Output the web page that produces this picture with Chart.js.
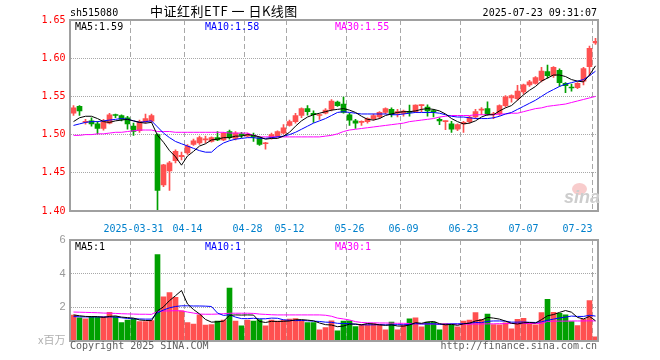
<!DOCTYPE html>
<html lang="zh-CN"><head><meta charset="utf-8"><title>中证红利ETF 日K线图</title>
<script src="https://cdn.jsdelivr.net/npm/chart.js@4.4.1/dist/chart.umd.min.js"></script>
<style>
html,body{margin:0;padding:0;background:#fff;}
#box{position:relative;width:660px;height:360px;overflow:hidden;background:#fff;}
#box canvas{position:absolute;left:0;}
.lbl{position:absolute;white-space:pre;font-family:"DejaVu Sans Mono",monospace;font-size:10px;line-height:12px;}
</style></head><body>
<div id="box">
<canvas id="priceCanvas" width="660" height="232" style="top:0"></canvas>
<canvas id="volumeCanvas" width="660" height="135" style="top:225px"></canvas>
<div class="lbl" style="left:70px;top:7px;color:#000">sh515080</div>
<div class="lbl" style="left:150px;top:4px;font-family:'Noto Sans CJK SC',sans-serif;font-size:13px;line-height:14px;letter-spacing:0.5px;color:#000">中证红利ETF 一 日K线图</div>
<div class="lbl" style="right:63px;top:7px;color:#000;text-align:right">2025-07-23 09:31:07</div>
<div class="lbl" style="left:75px;top:21px;color:#000">MA5:1.59</div>
<div class="lbl" style="left:205px;top:21px;color:#0000ff">MA10:1.58</div>
<div class="lbl" style="left:335px;top:21px;color:#ff00ff">MA30:1.55</div>
<div class="lbl" style="left:75px;top:241px;color:#000">MA5:1</div>
<div class="lbl" style="left:205px;top:241px;color:#0000ff">MA10:1</div>
<div class="lbl" style="left:335px;top:241px;color:#ff00ff">MA30:1</div>
<div style="position:absolute;left:572px;top:183px;width:15px;height:12px;border-radius:50%;background:#f8cccc"></div>
<div class="lbl" style="left:564px;top:188px;font-family:'Liberation Sans',sans-serif;font-style:italic;font-weight:bold;font-size:18px;line-height:19px;color:#cdcdcd">sina</div>
<div class="lbl" style="left:38px;top:333px;font-family:'Noto Sans CJK SC',sans-serif;font-size:11px;line-height:12px;color:#b0b0b0">x百万</div>
<div class="lbl" style="left:70px;top:340px;color:#606060">Copyright 2025 SINA.COM</div>
<div class="lbl" style="right:63px;top:340px;color:#606060;text-align:right">http://finance.sina.com.cn</div>
</div>
<script>
const tradeDays = ['2025-03-17','2025-03-18','2025-03-19','2025-03-20','2025-03-21','2025-03-24','2025-03-25','2025-03-26','2025-03-27','2025-03-28',
'2025-03-31','2025-04-01','2025-04-02','2025-04-03','2025-04-07','2025-04-08','2025-04-09','2025-04-10','2025-04-11',
'2025-04-14','2025-04-15','2025-04-16','2025-04-17','2025-04-18','2025-04-21','2025-04-22','2025-04-23','2025-04-24','2025-04-25',
'2025-04-28','2025-04-29','2025-04-30','2025-05-06','2025-05-07','2025-05-08','2025-05-09',
'2025-05-12','2025-05-13','2025-05-14','2025-05-15','2025-05-16','2025-05-19','2025-05-20','2025-05-21','2025-05-22','2025-05-23',
'2025-05-26','2025-05-27','2025-05-28','2025-05-29','2025-05-30','2025-06-03','2025-06-04','2025-06-05','2025-06-06',
'2025-06-09','2025-06-10','2025-06-11','2025-06-12','2025-06-13','2025-06-16','2025-06-17','2025-06-18','2025-06-19','2025-06-20',
'2025-06-23','2025-06-24','2025-06-25','2025-06-26','2025-06-27','2025-06-30','2025-07-01','2025-07-02','2025-07-03','2025-07-04',
'2025-07-07','2025-07-08','2025-07-09','2025-07-10','2025-07-11','2025-07-14','2025-07-15','2025-07-16','2025-07-17','2025-07-18',
'2025-07-21','2025-07-22','2025-07-23'];

const markedDays = ['2025-03-31','2025-04-14','2025-04-28','2025-05-12','2025-05-26','2025-06-09','2025-06-23','2025-07-07','2025-07-23'];
const markedLabels = ['2025-03-31','04-14','04-28','05-12','05-26','06-09','06-23','07-07','07-23'];
const priceTicks = [1.40, 1.45, 1.50, 1.55, 1.60, 1.65];
const volumeTicks = [0, 2, 4, 6];

const dayOpen = [1.528,1.537,1.516,1.518,1.514,1.508,1.515,1.526,1.525,1.522,
1.511,1.505,1.517,1.5175,1.500,1.434,1.4526,1.466,1.471,1.476,
1.487,1.489,1.493,1.491,1.496,1.493,1.504,1.495,1.501,1.498,
1.499,1.496,1.488,1.496,1.498,1.502,1.512,1.517,1.525,1.534,
1.528,1.525,1.528,1.533,1.5425,1.540,1.526,1.518,1.516,1.517,
1.521,1.523,1.529,1.533,1.528,1.5276,1.530,1.530,1.538,1.536,
1.531,1.520,1.517,1.514,1.507,1.514,1.517,1.523,1.532,1.534,
1.526,1.527,1.538,1.548,1.547,1.556,1.565,1.567,1.571,1.5825,
1.577,1.584,1.567,1.562,1.5614,1.570,1.589,1.620];

const dayHigh = [1.538,1.538,1.520,1.522,1.517,1.520,1.528,1.527,1.526,1.524,
1.515,1.519,1.527,1.527,1.501,1.461,1.465,1.480,1.477,1.487,
1.494,1.498,1.498,1.497,1.504,1.503,1.506,1.504,1.503,1.502,
1.502,1.497,1.490,1.502,1.505,1.513,1.519,1.528,1.535,1.538,
1.531,1.527,1.534,1.546,1.544,1.549,1.528,1.520,1.518,1.522,
1.527,1.530,1.535,1.535,1.533,1.532,1.5386,1.539,1.539,1.539,
1.533,1.522,1.518,1.5175,1.514,1.5175,1.524,1.533,1.5355,1.543,
1.529,1.539,1.551,1.552,1.5645,1.566,1.571,1.576,1.588,1.591,
1.589,1.586,1.568,1.566,1.568,1.588,1.616,1.626];

const dayLow = [1.525,1.525,1.5135,1.511,1.501,1.5057,1.514,1.522,1.518,1.507,
1.499,1.503,1.515,1.516,1.400,1.432,1.427,1.463,1.467,1.474,
1.486,1.487,1.489,1.490,1.492,1.492,1.494,1.493,1.496,1.497,
1.491,1.486,1.481,1.494,1.497,1.501,1.511,1.515,1.522,1.5255,
1.516,1.520,1.527,1.531,1.537,1.528,1.512,1.508,1.512,1.515,
1.519,1.521,1.527,1.523,1.523,1.524,1.524,1.529,1.530,1.524,
1.523,1.513,1.5066,1.503,1.505,1.503,1.515,1.521,1.526,1.525,
1.521,1.525,1.536,1.5425,1.545,1.553,1.563,1.566,1.569,1.574,
1.575,1.563,1.555,1.557,1.560,1.565,1.577,1.618];

const dayClose = [1.535,1.531,1.517,1.514,1.508,1.517,1.526,1.525,1.520,1.514,
1.504,1.517,1.521,1.525,1.427,1.4605,1.463,1.478,1.473,1.485,
1.492,1.496,1.494,1.496,1.493,1.502,1.496,1.502,1.499,1.500,
1.497,1.487,1.489,1.500,1.504,1.509,1.517,1.525,1.534,1.530,
1.526,1.526,1.532,1.544,1.538,1.529,1.519,1.515,1.517,1.521,
1.525,1.529,1.534,1.526,1.530,1.5307,1.529,1.5386,1.5385,1.531,
1.530,1.518,1.5175,1.507,1.513,1.516,1.523,1.530,1.533,1.526,
1.527,1.538,1.5496,1.551,1.557,1.565,1.569,1.5746,1.583,1.577,
1.588,1.568,1.564,1.561,1.567,1.5865,1.613,1.622];

const priceMA5 = [1.517,1.522,1.524,1.524,1.521,1.517,1.516,1.518,1.519,1.520,
1.518,1.516,1.515,1.516,1.499,1.490,1.479,1.471,1.460,1.472,
1.478,1.485,1.488,1.493,1.494,1.496,1.496,1.498,1.498,1.500,
1.499,1.497,1.494,1.495,1.495,1.498,1.503,1.511,1.518,1.523,
1.526,1.528,1.530,1.532,1.533,1.534,1.532,1.529,1.524,1.520,
1.519,1.521,1.525,1.527,1.529,1.530,1.530,1.531,1.533,1.534,
1.533,1.531,1.527,1.521,1.517,1.514,1.515,1.518,1.523,1.526,
1.526,1.531,1.535,1.538,1.545,1.552,1.558,1.563,1.570,1.574,
1.578,1.578,1.576,1.572,1.570,1.569,1.578,1.590];

const priceMA10 = [1.512,1.514,1.516,1.517,1.517,1.518,1.519,1.520,1.521,1.520,
1.518,1.516,1.517,1.518,1.510,1.502,1.496,1.491,1.488,1.485,
1.482,1.479,1.477,1.477,1.484,1.489,1.492,1.494,1.495,1.496,
1.496,1.495,1.495,1.496,1.497,1.498,1.500,1.503,1.507,1.511,
1.515,1.518,1.521,1.525,1.529,1.530,1.529,1.528,1.527,1.527,
1.527,1.527,1.527,1.526,1.526,1.527,1.528,1.529,1.529,1.529,
1.529,1.528,1.526,1.524,1.523,1.523,1.522,1.521,1.521,1.521,
1.522,1.524,1.527,1.529,1.533,1.537,1.541,1.545,1.550,1.555,
1.559,1.563,1.566,1.568,1.570,1.572,1.577,1.583];

const priceMA30 = [1.499,1.499,1.500,1.500,1.501,1.501,1.502,1.503,1.503,1.504,
1.505,1.506,1.506,1.506,1.504,1.504,1.504,1.503,1.503,1.503,
1.503,1.503,1.503,1.503,1.503,1.503,1.502,1.502,1.502,1.502,
1.499,1.497,1.497,1.497,1.497,1.497,1.497,1.497,1.497,1.497,
1.497,1.497,1.498,1.499,1.501,1.504,1.506,1.507,1.508,1.509,
1.510,1.511,1.512,1.513,1.514,1.515,1.517,1.518,1.519,1.520,
1.521,1.523,1.524,1.525,1.525,1.525,1.525,1.526,1.526,1.526,
1.526,1.527,1.527,1.528,1.528,1.530,1.532,1.534,1.535,1.537,
1.538,1.539,1.540,1.542,1.544,1.546,1.548,1.550];

const volume = [1.54,1.37,1.31,1.45,1.40,1.45,1.70,1.45,1.09,1.25,
1.32,1.15,1.15,1.21,5.13,2.63,2.88,2.59,1.79,1.09,
1.01,1.55,0.95,0.98,1.19,1.25,3.15,1.19,0.90,1.25,
1.19,1.27,0.90,1.25,1.19,1.25,1.30,1.33,1.22,1.09,
1.09,0.66,0.79,1.20,0.60,1.18,1.20,0.85,0.97,0.98,
1.04,0.98,0.66,1.13,0.66,0.96,1.32,1.38,0.84,1.13,
1.13,0.66,1.04,0.98,0.84,1.19,1.25,1.69,1.29,1.60,
0.98,0.96,1.08,0.72,1.29,1.35,1.05,0.96,1.69,2.47,
1.71,1.65,1.55,1.15,0.92,1.29,2.40,0.25];

const volMA5 = [1.55,1.50,1.46,1.45,1.45,1.40,1.46,1.49,1.42,1.39,
1.36,1.25,1.22,1.21,1.79,2.03,2.40,2.69,3.00,2.20,
1.87,1.61,1.28,1.12,1.14,1.18,1.52,1.55,1.54,1.55,
1.54,1.16,1.10,1.17,1.16,1.17,1.19,1.26,1.27,1.24,
1.20,1.07,0.97,0.95,0.85,0.89,1.00,1.01,0.96,1.04,
1.01,0.96,0.93,0.96,0.89,0.88,0.95,1.09,1.05,1.13,
1.16,1.03,0.96,0.99,0.93,1.02,1.06,1.19,1.25,1.40,
1.36,1.30,1.18,1.05,1.01,1.08,1.10,1.07,1.27,1.50,
1.57,1.70,1.81,1.71,1.40,1.31,1.46,1.20];

const volMA10 = [1.45,1.44,1.43,1.43,1.43,1.43,1.43,1.42,1.38,1.34,
1.32,1.31,1.30,1.30,1.68,1.84,1.97,2.05,2.09,2.09,
2.08,2.08,2.07,2.05,1.66,1.52,1.56,1.42,1.33,1.33,
1.35,1.32,1.32,1.36,1.35,1.26,1.23,1.21,1.22,1.20,
1.18,1.16,1.12,1.11,1.05,1.04,1.03,0.99,0.96,0.96,
0.96,0.97,0.96,0.96,0.97,0.96,0.99,1.03,1.01,1.02,
1.02,0.99,1.00,1.02,1.02,1.03,1.06,1.10,1.09,1.17,
1.19,1.19,1.18,1.12,1.12,1.13,1.11,1.10,1.14,1.23,
1.30,1.37,1.42,1.48,1.46,1.46,1.53,1.48];

const volMA30 = [1.72,1.71,1.70,1.69,1.68,1.66,1.65,1.64,1.62,1.61,
1.60,1.59,1.59,1.58,1.76,1.78,1.79,1.80,1.79,1.72,
1.66,1.60,1.59,1.59,1.60,1.62,1.65,1.65,1.65,1.65,
1.64,1.60,1.58,1.56,1.55,1.55,1.55,1.55,1.55,1.55,
1.55,1.55,1.53,1.47,1.36,1.31,1.25,1.15,1.10,1.08,
1.08,1.07,1.07,1.06,1.05,1.05,1.04,1.03,1.02,1.01,
1.01,1.00,1.00,1.00,1.00,1.00,1.00,1.01,1.01,1.02,
1.02,1.03,1.03,1.04,1.04,1.04,1.04,1.04,1.05,1.16,
1.18,1.18,1.18,1.19,1.19,1.19,1.20,1.19];

const RISE = '#ff5050', FALL = '#00a000';
const dayColor = dayClose.map((c, i) => c >= dayOpen[i] ? RISE : FALL);
const bodyRange = dayOpen.map((o, i) => [Math.min(o, dayClose[i]), Math.max(o, dayClose[i])]);
const wickRange = dayLow.map((l, i) => [l, dayHigh[i]]);

const markIdx = markedDays.map(d => tradeDays.indexOf(d));
const markText = {};
markIdx.forEach((idx, k) => { markText[idx] = markedLabels[k]; });
const lastDay = tradeDays.length - 1;

// dashed separators at the left edge of each labelled day, placed through the x scale
const daySeparators = {
  id: 'daySeparators',
  beforeDatasetsDraw(chart) {
    const c = chart.ctx;
    const area = chart.chartArea;
    const sx = chart.scales.x;
    const half = (sx.getPixelForValue(1) - sx.getPixelForValue(0)) / 2;
    c.save();
    c.lineWidth = 1;
    c.strokeStyle = '#a8a8a8';
    c.setLineDash([5, 3]);
    markIdx.forEach(idx => {
      const px = Math.floor(sx.getPixelForValue(idx) - half) + 0.5;
      c.beginPath();
      c.moveTo(px, area.top);
      c.lineTo(px, area.bottom);
      c.stroke();
    });
    c.restore();
  }
};

const panelFrame = {
  id: 'panelFrame',
  afterDraw(chart) {
    const c = chart.ctx;
    const area = chart.chartArea;
    c.save();
    c.setLineDash([]);
    c.strokeStyle = '#a0a0a0';
    c.lineWidth = 2;
    const x0 = Math.floor(area.left), x1 = Math.floor(area.right), y0 = Math.round(area.top), y1 = Math.round(area.bottom);
    c.strokeRect(x0, y0, x1 - x0, y1 - y0);
    c.restore();
  }
};

function maLine(data, color) {
  return { type: 'line', data, borderColor: color, borderWidth: 1, pointRadius: 0, tension: 0, fill: false, order: 0 };
}

const mono10 = { family: 'DejaVu Sans Mono', size: 10 };

new Chart(document.getElementById('priceCanvas'), {
  type: 'bar',
  data: {
    labels: tradeDays,
    datasets: [
      maLine(priceMA5, '#000000'),
      maLine(priceMA10, '#0000ff'),
      maLine(priceMA30, '#ff00ff'),
      { data: wickRange, backgroundColor: dayColor, barThickness: 1, grouped: false, order: 2, borderWidth: 0 },
      { data: bodyRange, backgroundColor: dayColor, barThickness: 5, grouped: false, order: 1, borderWidth: 0, minBarLength: 1 }
    ]
  },
  options: {
    responsive: false, animation: false, events: [],
    layout: { padding: { top: 20, right: 61.5, bottom: 0, left: 0 } },
    plugins: { legend: { display: false }, tooltip: { enabled: false } },
    scales: {
      x: {
        offset: true,
        grid: { display: false },
        border: { display: false },
        ticks: {
          autoSkip: false, maxRotation: 0, minRotation: 0, padding: 4,
          color: '#0080cc', font: mono10,
          callback: (v, i) => markText[i] === undefined ? '' : (i === lastDay ? markText[i] + '      ' : markText[i])
        },
        afterFit: s => { s.height = 21; }
      },
      y: {
        min: priceTicks[0], max: priceTicks[priceTicks.length - 1],
        afterBuildTicks: s => { s.ticks = priceTicks.map(v => ({ value: v })); },
        ticks: { color: '#ff0000', font: mono10, padding: 5, callback: v => v.toFixed(2) },
        grid: { color: '#a8a8a8', drawTicks: false },
        border: { display: false, dash: [1, 1] },
        afterFit: s => { s.width = 70.5; }
      }
    }
  },
  plugins: [daySeparators, panelFrame]
});

new Chart(document.getElementById('volumeCanvas'), {
  type: 'bar',
  data: {
    labels: tradeDays,
    datasets: [
      maLine(volMA5, '#000000'),
      maLine(volMA10, '#0000ff'),
      maLine(volMA30, '#ff00ff'),
      { data: volume, backgroundColor: dayColor, barThickness: 5, order: 1, borderWidth: 0 }
    ]
  },
  options: {
    responsive: false, animation: false, events: [],
    layout: { padding: { top: 15, right: 61.5, bottom: 0, left: 0 } },
    plugins: { legend: { display: false }, tooltip: { enabled: false } },
    scales: {
      x: {
        offset: true,
        grid: { display: false },
        border: { display: false },
        ticks: { display: false, autoSkip: false },
        afterFit: s => { s.height = 19; }
      },
      y: {
        min: volumeTicks[0], max: volumeTicks[volumeTicks.length - 1],
        afterBuildTicks: s => { s.ticks = volumeTicks.map(v => ({ value: v })); },
        ticks: { color: '#999999', font: { family: 'Liberation Sans', size: 11 }, padding: 5, callback: v => v === 0 ? '' : String(v) },
        grid: { color: '#a8a8a8', drawTicks: false },
        border: { display: false, dash: [1, 1] },
        afterFit: s => { s.width = 70.5; }
      }
    }
  },
  plugins: [daySeparators, panelFrame]
});
</script>
</body></html>
